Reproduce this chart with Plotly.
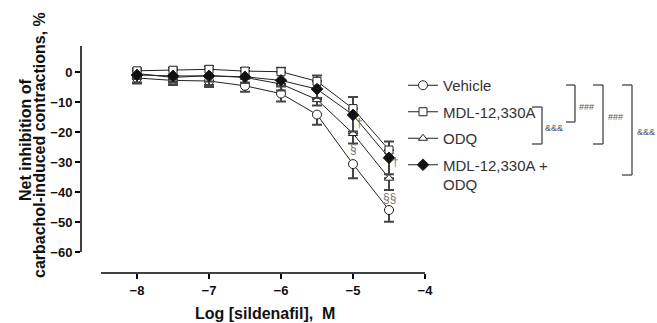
import plotly.graph_objects as go

# ---------------- data ----------------
log_conc = [-8, -7.5, -7, -6.5, -6, -5.5, -5, -4.5]

vehicle = [-2.0, -2.8, -3.0, -4.6, -7.2, -14.2, -30.7, -46.0]
vehicle_err = [1.8, 1.5, 2.0, 2.0, 2.6, 3.4, 4.7, 3.9]

mdl = [0.4, 0.6, 0.9, 0.3, 0.1, -3.1, -12.2, -26.0]
mdl_err = [0.8, 0.8, 1.0, 1.0, 1.3, 1.9, 3.9, 2.8]

odq = [-0.5, -1.8, -1.2, -1.8, -4.0, -9.2, -20.5, -35.4]
odq_err = [1.8, 1.8, 2.0, 1.8, 2.2, 2.0, 3.3, 3.9]

combo = [-1.0, -1.3, -1.3, -1.6, -2.8, -5.7, -14.3, -28.6]
combo_err = [2.5, 1.8, 3.0, 2.0, 2.0, 3.0, 5.5, 5.5]

x_ticks = [-8, -7, -6, -5, -4]
y_ticks = [0, -10, -20, -30, -40, -50, -60]

# ---------------- figure ----------------
W, H = 657, 323
ML, MR, MT, MB = 81, 232, 46, 50
FONT = "Liberation Sans, Arial, sans-serif"

def px(x):
    return (x - ML) / (W - ML - MR)

def py(y):
    return (H - MB - y) / (H - MT - MB)

fig = go.Figure()

def add(name, y, err, symbol, up, fill, size):
    zeros = [0] * len(err)
    fig.add_trace(go.Scatter(
        x=log_conc, y=y, name=name, mode="lines+markers",
        legendgroup=name,
        line=dict(color="#222", width=1),
        marker=dict(symbol=symbol, size=size, color=fill,
                    line=dict(color="#222", width=1)),
        error_y=dict(type="data", symmetric=False,
                     array=err if up else zeros,
                     arrayminus=zeros if up else err,
                     color="#444", thickness=2, width=5),
    ))

add("Vehicle", vehicle, vehicle_err, "circle", False, "white", 9)
add("MDL-12,330A", mdl, mdl_err, "square", True, "white", 8)
add("ODQ", odq, odq_err, "triangle-up", False, "white", 8)
add("MDL-12,330A +<br>ODQ", combo, combo_err, "diamond", False, "#111", 9)

shapes = [
    # detached axis lines
    dict(type="line", xref="paper", yref="y", x0=0, x1=0, y0=-60, y1=8.7,
         line=dict(color="black", width=1.5)),
    dict(type="line", xref="x", yref="paper", x0=-8.5, x1=-4, y0=0, y1=0,
         line=dict(color="black", width=1.5)),
]

# significance brackets (pixel positions converted to paper)
brackets = [
    (532, 542, 107, 144),
    (566, 575, 85, 122),
    (593, 603, 85, 144),
    (622, 632, 85, 175),
]
for x0, xv, yt, yb in brackets:
    for seg in [(x0, yt, xv, yt), (xv, yt, xv, yb), (x0, yb, xv, yb)]:
        shapes.append(dict(type="line", xref="paper", yref="paper",
                           x0=px(seg[0]), y0=py(seg[1]), x1=px(seg[2]), y1=py(seg[3]),
                           line=dict(color="#444", width=1.3)))

annotations = [
    dict(text="<b>Net inhibition of</b>",
         xref="paper", yref="paper", x=px(25), y=py(140), textangle=-90,
         xanchor="center", yanchor="middle",
         showarrow=False, font=dict(size=16, color="#111", family=FONT)),
    dict(text="<b>carbachol-induced contractions, %</b>",
         xref="paper", yref="paper", x=px(39), y=py(145), textangle=-90,
         xanchor="center", yanchor="middle",
         showarrow=False, font=dict(size=16, color="#111", family=FONT)),
    dict(text="<b>Log [sildenafil],  M</b>",
         xref="paper", yref="paper", x=px(265), y=py(313),
         xanchor="center", yanchor="middle",
         showarrow=False, font=dict(size=16, color="#111", family=FONT)),
]
for txt, x, y in [("&&&", 554, 128), ("###", 586, 107), ("###", 615, 117), ("&&&", 646, 132)]:
    annotations.append(dict(text=txt, xref="paper", yref="paper", x=px(x), y=py(y),
                            xanchor="center", yanchor="middle",
                            showarrow=False, font=dict(size=9, color="#555", family=FONT)))

# statistical markers on the curves
for txt, x, y, dx in [("§", -5, -25.8, 0), ("§§", -4.5, -42.0, 0),
                      ("†", -5, -17.0, 6), ("†", -4.5, -30.0, 6)]:
    annotations.append(dict(text=txt, x=x, y=y, xref="x", yref="y", xshift=dx,
                            xanchor="center", yanchor="middle",
                            showarrow=False, font=dict(size=12, color="#777", family=FONT)))

fig.update_layout(
    width=W, height=H,
    margin=dict(l=ML, r=MR, t=MT, b=MB),
    paper_bgcolor="white", plot_bgcolor="white",
    font=dict(family=FONT, color="#111"),
    showlegend=True,
    legend=dict(x=px(403), y=py(69), xanchor="left", yanchor="top",
                font=dict(size=15, color="#333", family=FONT),
                tracegroupgap=4, valign="top", bgcolor="rgba(0,0,0,0)"),
    xaxis=dict(range=[-8.778, -4.0], tickvals=x_ticks,
               ticktext=["<b>−%d</b>" % abs(v) for v in x_ticks],
               ticks="outside", ticklen=5, tickwidth=1.5, tickcolor="black",
               showgrid=False, zeroline=False, showline=False,
               tickfont=dict(size=13, color="#111", family=FONT)),
    yaxis=dict(range=[-67.0, 8.67], tickvals=y_ticks,
               ticktext=["<b>0</b>" if v == 0 else "<b>−%d</b>" % abs(v) for v in y_ticks],
               ticks="outside", ticklen=5, tickwidth=1.5, tickcolor="black",
               showgrid=False, zeroline=False, showline=False,
               tickfont=dict(size=13, color="#111", family=FONT)),
    shapes=shapes,
    annotations=annotations,
)

fig.write_html("out.html", config={"displayModeBar": False},
               post_script="document.body.style.margin='0';document.body.style.padding='0';")
